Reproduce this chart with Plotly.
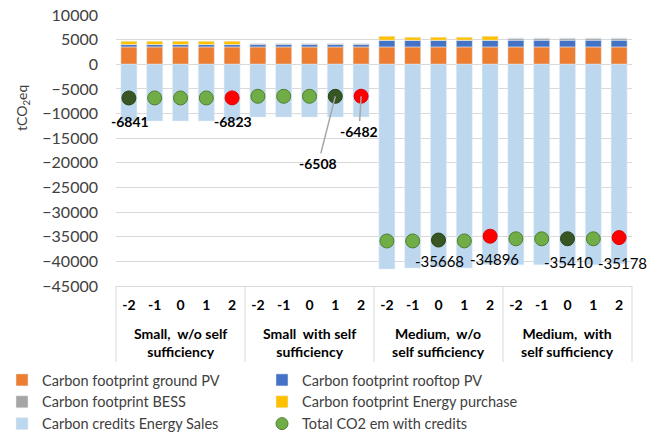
import plotly.graph_objects as go

groups = ["Small,  w/o self<br>sufficiency", "Small  with self<br>sufficiency",
          "Medium,  w/o<br>self sufficiency", "Medium,  with<br>self sufficiency"]
levels = ["-2", "-1", "0", "1", "2"]

ground_pv = [3520]*5 + [3520]*5 + [3520]*5 + [3520]*5
rooftop_pv = [480]*5 + [480]*5 + [1360]*5 + [1360]*5
bess = [0]*5 + [200]*5 + [0]*5 + [405]*5
purchase = [680]*5 + [0]*5 + [810, 610, 610, 610, 810] + [0]*5
credits = [-11521, -11515, -11518, -11512, -11503,
           -10695, -10697, -10700, -10708, -10682,
           -41560, -41350, -41158, -41340, -40586,
           -40705, -40705, -40695, -40705, -40463]
total = [-6841, -6835, -6838, -6832, -6823,
         -6495, -6497, -6500, -6508, -6482,
         -35870, -35860, -35668, -35850, -34896,
         -35420, -35420, -35410, -35420, -35178]

# indices of highlighted (labelled) points
best_idx = [0, 8, 12, 17]
worst_idx = [4, 9, 14, 19]

FONT = "Lato"
n = len(total)
x = list(range(n))
ticktext = levels * len(groups)

L, R, T, B = 116, 29, 15, 151
W, H = 661, 437
PW, PH = W - L - R, H - T - B

def px_x(pix):
    return (pix - L) / PW

def px_y(pix):
    return (H - B - pix) / PH

fig = go.Figure()
bar_w = 0.62
fig.add_bar(x=x, y=ground_pv, name="Carbon footprint ground PV", marker_color="#ED7D31", width=bar_w)
fig.add_bar(x=x, y=rooftop_pv, name="Carbon footprint rooftop PV", marker_color="#4472C4", width=bar_w)
fig.add_bar(x=x, y=bess, name="Carbon footprint BESS", marker_color="#A5A5A5", width=bar_w)
fig.add_bar(x=x, y=purchase, name="Carbon footprint Energy purchase", marker_color="#FFC000", width=bar_w)
fig.add_bar(x=x, y=credits, name="Carbon credits Energy Sales", marker_color="#BDD7EE", width=bar_w)

colors = []
lines = []
for i in range(n):
    if i in best_idx:
        colors.append("#375623"); lines.append("#2A4219")
    elif i in worst_idx:
        colors.append("#FF0000"); lines.append("#E00000")
    else:
        colors.append("#70AD47"); lines.append("#507E32")
fig.add_scatter(x=x, y=total, mode="markers", name="Total CO2 em with credits",
                showlegend=False, legendgroup="tot",
                marker=dict(symbol="circle", size=14, color=colors,
                            line=dict(color=lines, width=1)))
# legend entry for the totals (plain green as in the reference legend)
fig.add_scatter(x=[None], y=[None], mode="markers", name="Total CO2 em with credits",
                legendgroup="tot",
                marker=dict(symbol="circle", size=12, color="#70AD47",
                            line=dict(color="#507E32", width=1)))

# data labels
label_cfg = {
    0: dict(dx=1, dy=24, bold=True, arrow=False),
    4: dict(dx=1, dy=24, bold=True, arrow=False),
    8: dict(dx=-17, dy=67, bold=True, arrow=True),
    9: dict(dx=-2, dy=35, bold=True, arrow=True),
    12: dict(dx=1, dy=21, bold=False, arrow=False),
    14: dict(dx=4, dy=23, bold=False, arrow=False),
    17: dict(dx=1, dy=23, bold=False, arrow=False),
    19: dict(dx=3, dy=25, bold=False, arrow=False),
}
for i, c in label_cfg.items():
    txt = f"{total[i]}"
    if c["bold"]:
        txt = f"<b>{txt}</b>"
    fnt = dict(family=FONT, size=14 if c["bold"] else 15, color="#000000")
    if c["arrow"]:
        fig.add_annotation(x=x[i], y=total[i], xref="x", yref="y", text=txt, font=fnt,
                           showarrow=True, ax=c["dx"], ay=c["dy"], arrowhead=0,
                           arrowwidth=1.5, arrowcolor="#A6A6A6", standoff=0)
    else:
        fig.add_annotation(x=x[i], y=total[i], xref="x", yref="y", text=txt, font=fnt,
                           showarrow=False, xshift=c["dx"], yshift=-c["dy"])

# group labels and dividers below axis
ng = len(groups)
for k in range(ng + 1):
    fig.add_shape(type="line", xref="paper", yref="paper", x0=k/ng, x1=k/ng,
                  y0=0, y1=px_y(362), line=dict(color="#D9D9D9", width=1))
for k, g in enumerate(groups):
    fig.add_annotation(x=(k + 0.5)/ng, y=px_y(342), xref="paper", yref="paper",
                       text=f"<b>{g}</b>", showarrow=False, xanchor="center", yanchor="middle",
                       font=dict(family=FONT, size=14, color="#000000"))

# y-axis title
fig.add_annotation(x=px_x(22), y=px_y(108), xref="paper", yref="paper", text="tCO<sub>2</sub>eq",
                   showarrow=False, textangle=-90, xanchor="center", yanchor="middle",
                   font=dict(family=FONT, size=14, color="#404040"))

fig.update_layout(
    width=W, height=H,
    margin=dict(l=L, r=R, t=T, b=B, autoexpand=False),
    barmode="relative", bargap=0.38,
    plot_bgcolor="white", paper_bgcolor="white",
    font=dict(family=FONT, size=14, color="#404040"),
    showlegend=True,
    legend=dict(orientation="h", x=px_x(2), xanchor="left", y=px_y(364), yanchor="top",
                entrywidth=215, entrywidthmode="pixels", traceorder="normal",
                font=dict(family=FONT, size=14.5, color="#404040"),
                itemwidth=30, tracegroupgap=0),
    xaxis=dict(range=[-0.5, n - 0.5], tickvals=x, ticktext=[f"<b>{t}</b>" for t in ticktext],
               tickfont=dict(family=FONT, size=14, color="#000000"), showgrid=False,
               showline=True, linecolor="#D9D9D9", ticks="", zeroline=False,
               ticklabelstandoff=6),
    yaxis=dict(range=[-45000, 10000], dtick=5000, tickformat="d", showgrid=True,
               gridcolor="#D9D9D9", zeroline=True, zerolinecolor="#D9D9D9", zerolinewidth=1,
               tickfont=dict(family=FONT, size=16, color="#404040"), ticks="",
               ticklabelstandoff=17, showline=False),
)

fig.write_html("out.html", config={"displayModeBar": False},
               post_script="document.body.style.margin='0';")
